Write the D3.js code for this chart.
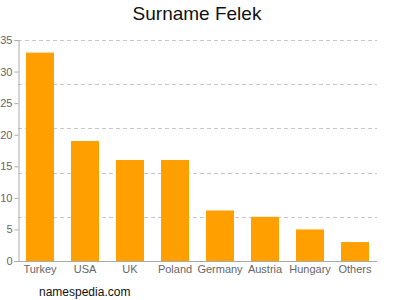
<!DOCTYPE html>
<html><head><meta charset="utf-8">
<script src="https://cdn.jsdelivr.net/npm/d3@7"></script>
<style>body{margin:0;background:#fff}svg{display:block}</style>
</head><body>
<script>
const categories = ["Turkey","USA","UK","Poland","Germany","Austria","Hungary","Others"];
const values = [33,19,16,16,8,7,5,3];
const yTicks = [0,5,10,15,20,25,30,35];
const gridValues = [7,14,21,28,35];

const W=400,H=300;
const svg=d3.select("body").append("svg").attr("width",W).attr("height",H);
const font="'Liberation Sans', Arial, sans-serif";
const x=d3.scaleBand().domain(categories).range([17.5,377.5]).paddingInner(0.378).paddingOuter(0.189);
const y=d3.scaleLinear().domain([0,35]).range([261,40]);

svg.append("g").selectAll("line").data(gridValues).join("line")
  .attr("x1",18).attr("x2",377).attr("y1",d=>Math.round(y(d))+0.5).attr("y2",d=>Math.round(y(d))+0.5)
  .attr("stroke","#c8c8c8").attr("stroke-dasharray","4,3");

svg.append("g").selectAll("rect").data(values).join("rect")
  .attr("x",(d,i)=>x(categories[i])).attr("width",x.bandwidth())
  .attr("y",d=>y(d)).attr("height",d=>y(0)-y(d)).attr("fill","#ffa000");

const ya=svg.append("g").attr("transform","translate(18.5,0)")
  .call(d3.axisLeft(y).tickValues(yTicks).tickSize(4).tickPadding(2));
ya.select(".domain").attr("stroke","#aaa");
ya.selectAll(".tick line").attr("stroke","#aaa");
ya.selectAll("text").attr("fill","#666").style("font-family",font).style("font-size","11px");

const xa=svg.append("g").attr("transform","translate(0,261.5)")
  .call(d3.axisBottom(x).tickSize(0).tickPadding(4));
xa.select(".domain").attr("stroke","#aaa").attr("d","M14,0H377");
xa.selectAll("text").attr("fill","#666").style("font-family",font).style("font-size","11px");

svg.append("text").attr("x",197).attr("y",20).attr("text-anchor","middle")
  .style("font-family",font).style("font-size","19px").attr("fill","#111").text("Surname Felek");
svg.append("text").attr("x",39).attr("y",296)
  .style("font-family",font).style("font-size","12px").attr("fill","#111").text("namespedia.com");
</script>
</body></html>
